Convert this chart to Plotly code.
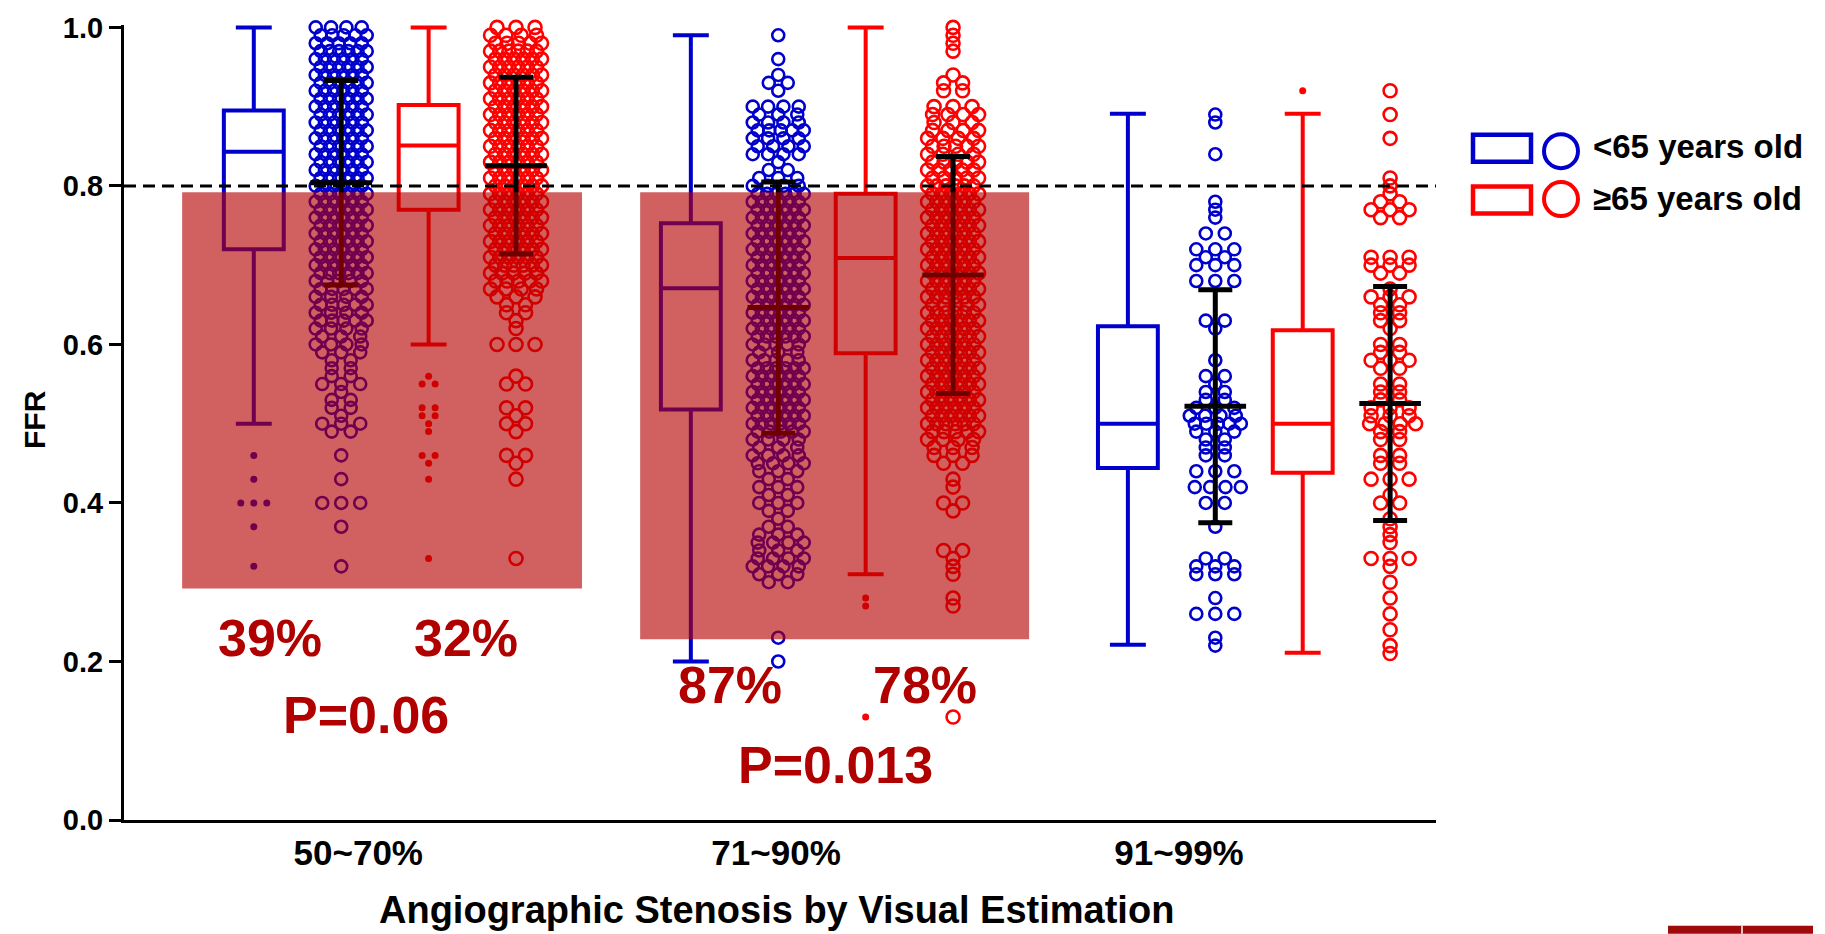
import numpy as np
import plotly.graph_objects as go

# ---------------------------------------------------------------- data
categories = ["50~70%", "71~90%", "91~99%"]
label_x = [-0.061, 0.895, 1.817]          # where each category label sits on the x scale

# box summaries, <65 years old
young_low = [0.50, 0.20, 0.221]
young_q1 = [0.72, 0.518, 0.444]
young_med = [0.843, 0.671, 0.500]
young_q3 = [0.895, 0.753, 0.623]
young_high = [1.00, 0.99, 0.891]

# box summaries, >=65 years old
old_low = [0.60, 0.31, 0.211]
old_q1 = [0.77, 0.589, 0.438]
old_med = [0.851, 0.709, 0.500]
old_q3 = [0.902, 0.790, 0.618]
old_high = [1.00, 1.00, 0.891]

# values beyond the whiskers
young_outliers = [[0.46, 0.43, 0.40, 0.40, 0.40, 0.37, 0.32], [], []]
old_outliers = [[0.56, 0.55, 0.55, 0.52, 0.52, 0.51, 0.51, 0.50, 0.49,
                 0.46, 0.46, 0.45, 0.43, 0.33],
                [0.28, 0.27, 0.13],
                [0.92]]

# mean +/- SD
young_mean = [0.804, 0.6465, 0.522]
young_sd = [0.129, 0.1585, 0.147]
old_mean = [0.8255, 0.6875, 0.5255]
old_sd = [0.1115, 0.1495, 0.1475]

# individual FFR readings: number of lesions per 0.01 FFR step, from the start value
young_start = [0.32, 0.20, 0.22]
young_counts = [
    [1, 0, 0, 0, 0, 1, 0, 0, 3, 0,
     0, 1, 0, 0, 1, 0, 0, 2, 3, 1,
     2, 2, 1, 3, 2, 2, 2, 3, 4, 3,
     4, 5, 4, 5, 4, 5, 5, 6, 6, 6,
     6, 6, 6, 6, 6, 6, 6, 6, 6, 6,
     6, 6, 6, 6, 6, 6, 6, 6, 6, 6,
     6, 6, 6, 6, 6, 6, 5, 5, 4],
    [1, 0, 0, 1, 0, 0, 0, 0, 0, 0,
     2, 3, 4, 4, 3, 4, 3, 2, 1, 2,
     3, 2, 3, 2, 3, 4, 4, 3, 4, 5,
     6, 6, 6, 6, 6, 6, 6, 6, 5, 3,
     5, 6, 6, 6, 6, 6, 6, 6, 6, 6,
     6, 6, 6, 6, 6, 6, 6, 6, 6, 6,
     4, 3, 2, 1, 4, 4, 4, 5, 4, 3,
     4, 0, 1, 2, 1, 0, 1, 0, 0, 1],
    [1, 1, 0, 0, 3, 0, 1, 0, 0, 3,
     3, 2, 0, 0, 0, 1, 0, 0, 2, 0,
     4, 0, 3, 0, 2, 2, 2, 3, 5, 4,
     3, 2, 2, 1, 2, 0, 1, 0, 0, 0,
     1, 2, 0, 0, 0, 0, 3, 0, 3, 2,
     3, 0, 2, 0, 1, 1, 1, 0, 0, 0,
     0, 0, 1, 0, 0, 0, 1, 1],
]
old_start = [0.33, 0.13, 0.21]
old_counts = [
    [1, 0, 0, 0, 0, 0, 0, 0, 0, 0,
     1, 0, 1, 2, 0, 0, 1, 2, 1, 2,
     0, 0, 2, 1, 0, 0, 0, 3, 0, 1,
     1, 2, 2, 3, 4, 5, 5, 6, 6, 6,
     6, 6, 6, 6, 6, 6, 6, 6, 6, 6,
     6, 6, 6, 6, 6, 6, 6, 6, 6, 6,
     6, 6, 6, 6, 6, 5, 4, 3],
    [1, 0, 0, 0, 0, 0, 0, 0, 0, 0,
     0, 0, 0, 0, 1, 1, 0, 0, 1, 1,
     1, 2, 0, 0, 0, 0, 1, 2, 0, 1,
     1, 0, 2, 3, 3, 4, 5, 6, 6, 6,
     6, 6, 6, 6, 6, 6, 6, 6, 6, 6,
     6, 6, 5, 6, 6, 6, 6, 6, 6, 6,
     6, 6, 6, 6, 6, 6, 6, 6, 5, 5,
     5, 4, 5, 4, 4, 3, 4, 3, 0, 2,
     2, 1, 0, 0, 1, 1, 1, 1],
    [1, 1, 0, 1, 0, 1, 0, 1, 0, 1,
     0, 1, 3, 0, 1, 1, 1, 1, 0, 2,
     1, 0, 3, 0, 2, 2, 0, 2, 2, 4,
     3, 3, 2, 2, 2, 0, 2, 3, 2, 2,
     0, 1, 2, 2, 2, 3, 1, 0, 2, 3,
     3, 0, 0, 0, 0, 2, 3, 2, 1, 1,
     1, 0, 0, 0, 0, 1, 0, 0, 1, 0,
     0, 1],
]

pct_young = ["39%", "87%"]
pct_old = ["32%", "78%"]
p_values = ["P=0.06", "P=0.013"]
legend_labels = ["<65 years old", "\u226565 years old"]

# ---------------------------------------------------------------- styling
BLUE = "#0000CD"
RED = "#FF0000"
DARKRED = "#B00000"
FONT = "Liberation Sans, Arial, sans-serif"

W, H = 1825, 934
M_L, M_R, M_T, M_B = 124, 389, 23, 114
X_RANGE = [-0.597, 2.405]
Y_RANGE = [0.0, 1.003]
PX_PER_X = (W - M_L - M_R) / (X_RANGE[1] - X_RANGE[0])

OFF_YOUNG_BOX, OFF_YOUNG_PTS, OFF_OLD_BOX, OFF_OLD_PTS = -0.3, -0.1, 0.1, 0.3
groups = np.arange(len(categories))


def expand(start, counts):
    levels = np.round(start + 0.01 * np.arange(len(counts)), 2)
    return np.repeat(levels, counts)


def swarm(values, center, spacing_px, half_span_px, stagger_px=0.0):
    """Spread equal readings side by side around a column centre."""
    vals = np.round(np.asarray(values, dtype=float), 3)
    xs = np.zeros(len(vals))
    for row, v in enumerate(np.unique(vals)):
        idx = np.where(vals == v)[0]
        n = len(idx)
        step = spacing_px if n == 1 else min(spacing_px, 2 * half_span_px / (n - 1))
        offs = (np.arange(n) - (n - 1) / 2) * step
        if n >= 4:
            offs = offs + (stagger_px if row % 2 else -stagger_px)
        xs[idx] = center + offs / PX_PER_X
    return xs, vals


fig = go.Figure()

# box plots
for off, color, lo, q1, med, q3, hi in [
    (OFF_YOUNG_BOX, BLUE, young_low, young_q1, young_med, young_q3, young_high),
    (OFF_OLD_BOX, RED, old_low, old_q1, old_med, old_q3, old_high),
]:
    fig.add_trace(go.Box(
        x=list(groups + off), q1=q1, median=med, q3=q3,
        lowerfence=lo, upperfence=hi,
        width=0.137, whiskerwidth=0.6,
        line=dict(color=color, width=4),
        fillcolor="rgba(0,0,0,0)",
        boxpoints=False, hoverinfo="skip", showlegend=False,
    ))

# outlier dots next to the boxes
for off, color, outs in [(OFF_YOUNG_BOX, BLUE, young_outliers),
                         (OFF_OLD_BOX, RED, old_outliers)]:
    for g, vals in zip(groups, outs):
        if not vals:
            continue
        xs, ys = swarm(vals, g + off, 13, 16)
        fig.add_trace(go.Scatter(
            x=xs, y=ys, mode="markers",
            marker=dict(symbol="circle", size=7, color=color),
            hoverinfo="skip", showlegend=False, cliponaxis=False,
        ))

# individual readings as open circles
for off, color, size, starts, counts in [
    (OFF_YOUNG_PTS, BLUE, 12, young_start, young_counts),
    (OFF_OLD_PTS, RED, 13, old_start, old_counts),
]:
    for g, s, c in zip(groups, starts, counts):
        xs, ys = swarm(expand(s, c), g + off, 19, 23, stagger_px=2.5)
        fig.add_trace(go.Scatter(
            x=xs, y=ys, mode="markers",
            marker=dict(symbol="circle-open", size=size, color=color,
                        line=dict(width=2.6, color=color)),
            hoverinfo="skip", showlegend=False, cliponaxis=False,
        ))

# mean +/- SD
for off, means, sds in [(OFF_YOUNG_PTS, young_mean, young_sd),
                        (OFF_OLD_PTS, old_mean, old_sd)]:
    fig.add_trace(go.Scatter(
        x=list(groups + off), y=means, mode="markers",
        marker=dict(symbol="line-ew", size=44, color="black",
                    line=dict(width=5, color="black")),
        error_y=dict(type="data", array=sds, thickness=5, width=17, color="black"),
        hoverinfo="skip", showlegend=False, cliponaxis=False,
    ))

shapes = []
# FFR 0.8 cut-off
shapes.append(dict(type="line", xref="paper", yref="y", x0=0, x1=1, y0=0.8, y1=0.8,
                   line=dict(color="black", width=3, dash="12px,7px"), layer="above"))
# shaded ischaemic zones
for x0, x1, y0 in [(-0.464, 0.451, 0.292), (0.584, 1.474, 0.228)]:
    shapes.append(dict(type="rect", xref="x", yref="y", x0=x0, x1=x1, y0=y0, y1=0.792,
                       fillcolor="rgba(180,0,0,0.62)", line=dict(width=0), layer="above"))


# legend glyphs (paper coordinates)
def px_x(p):
    return (p - M_L) / (W - M_L - M_R)


def px_y(p):
    return (H - M_B - p) / (H - M_T - M_B)


for color, ry0, ry1, cy in [(BLUE, 133, 160, 149.5), (RED, 185, 212, 197.5)]:
    shapes.append(dict(type="rect", xref="paper", yref="paper",
                       x0=px_x(1473), x1=px_x(1531), y0=px_y(ry1), y1=px_y(ry0),
                       line=dict(color=color, width=4.5), fillcolor="white"))
    shapes.append(dict(type="circle", xref="paper", yref="paper",
                       x0=px_x(1544), x1=px_x(1578), y0=px_y(cy + 17), y1=px_y(cy - 17),
                       line=dict(color=color, width=4), fillcolor="white"))

# small footer emblem
shapes.append(dict(type="rect", xref="paper", yref="paper",
                   x0=px_x(1668), x1=px_x(1813), y0=px_y(934), y1=px_y(926),
                   fillcolor="#9E0A0A", line=dict(width=0)))
shapes.append(dict(type="line", xref="paper", yref="paper",
                   x0=px_x(1742), x1=px_x(1742), y0=px_y(934), y1=px_y(926),
                   line=dict(color="white", width=1.5)))

annotations = []
bold = dict(family=FONT, weight="bold")
for text, cy in zip(legend_labels, [145, 197]):
    annotations.append(dict(text=text, xref="paper", yref="paper", x=px_x(1591), y=px_y(cy),
                            xanchor="left", yanchor="middle", showarrow=False,
                            font=dict(size=33, color="black", **bold)))

# percentages of FFR <= 0.80 and p-values
red_font = dict(size=52, color=DARKRED, **bold)
for text, x, y in [(pct_young[0], -0.263, 0.229), (pct_old[0], 0.186, 0.229),
                   (p_values[0], -0.043, 0.133),
                   (pct_young[1], 0.790, 0.170), (pct_old[1], 1.236, 0.170),
                   (p_values[1], 1.030, 0.069)]:
    annotations.append(dict(text=text, x=x, y=y, xref="x", yref="y",
                            xanchor="center", yanchor="middle", showarrow=False,
                            font=red_font))

annotations.append(dict(text="FFR", xref="paper", yref="paper", x=px_x(34), y=px_y(419),
                        textangle=-90, xanchor="center", yanchor="middle", showarrow=False,
                        font=dict(size=30, color="black", **bold)))
annotations.append(dict(text="Angiographic Stenosis by Visual Estimation",
                        xref="paper", yref="paper", x=px_x(776), y=px_y(910),
                        xanchor="center", yanchor="middle", showarrow=False,
                        font=dict(size=38, color="black", **bold)))

fig.update_layout(
    width=W, height=H,
    margin=dict(l=M_L, r=M_R, t=M_T, b=M_B, pad=0),
    paper_bgcolor="white", plot_bgcolor="white",
    showlegend=False,
    shapes=shapes, annotations=annotations,
    xaxis=dict(range=X_RANGE, showgrid=False, zeroline=False,
               showline=True, linecolor="black", linewidth=3,
               tickmode="array", tickvals=label_x, ticktext=categories,
               ticks="", tickfont=dict(size=35, color="black", **bold)),
    yaxis=dict(range=Y_RANGE, showgrid=False, zeroline=False,
               showline=True, linecolor="black", linewidth=3,
               tickmode="array", tickvals=[0, 0.2, 0.4, 0.6, 0.8, 1.0],
               tickformat=".1f", ticks="outside", ticklen=12, tickwidth=3,
               tickcolor="black", tickfont=dict(size=29, color="black", **bold)),
)

fig.write_html("out.html")
